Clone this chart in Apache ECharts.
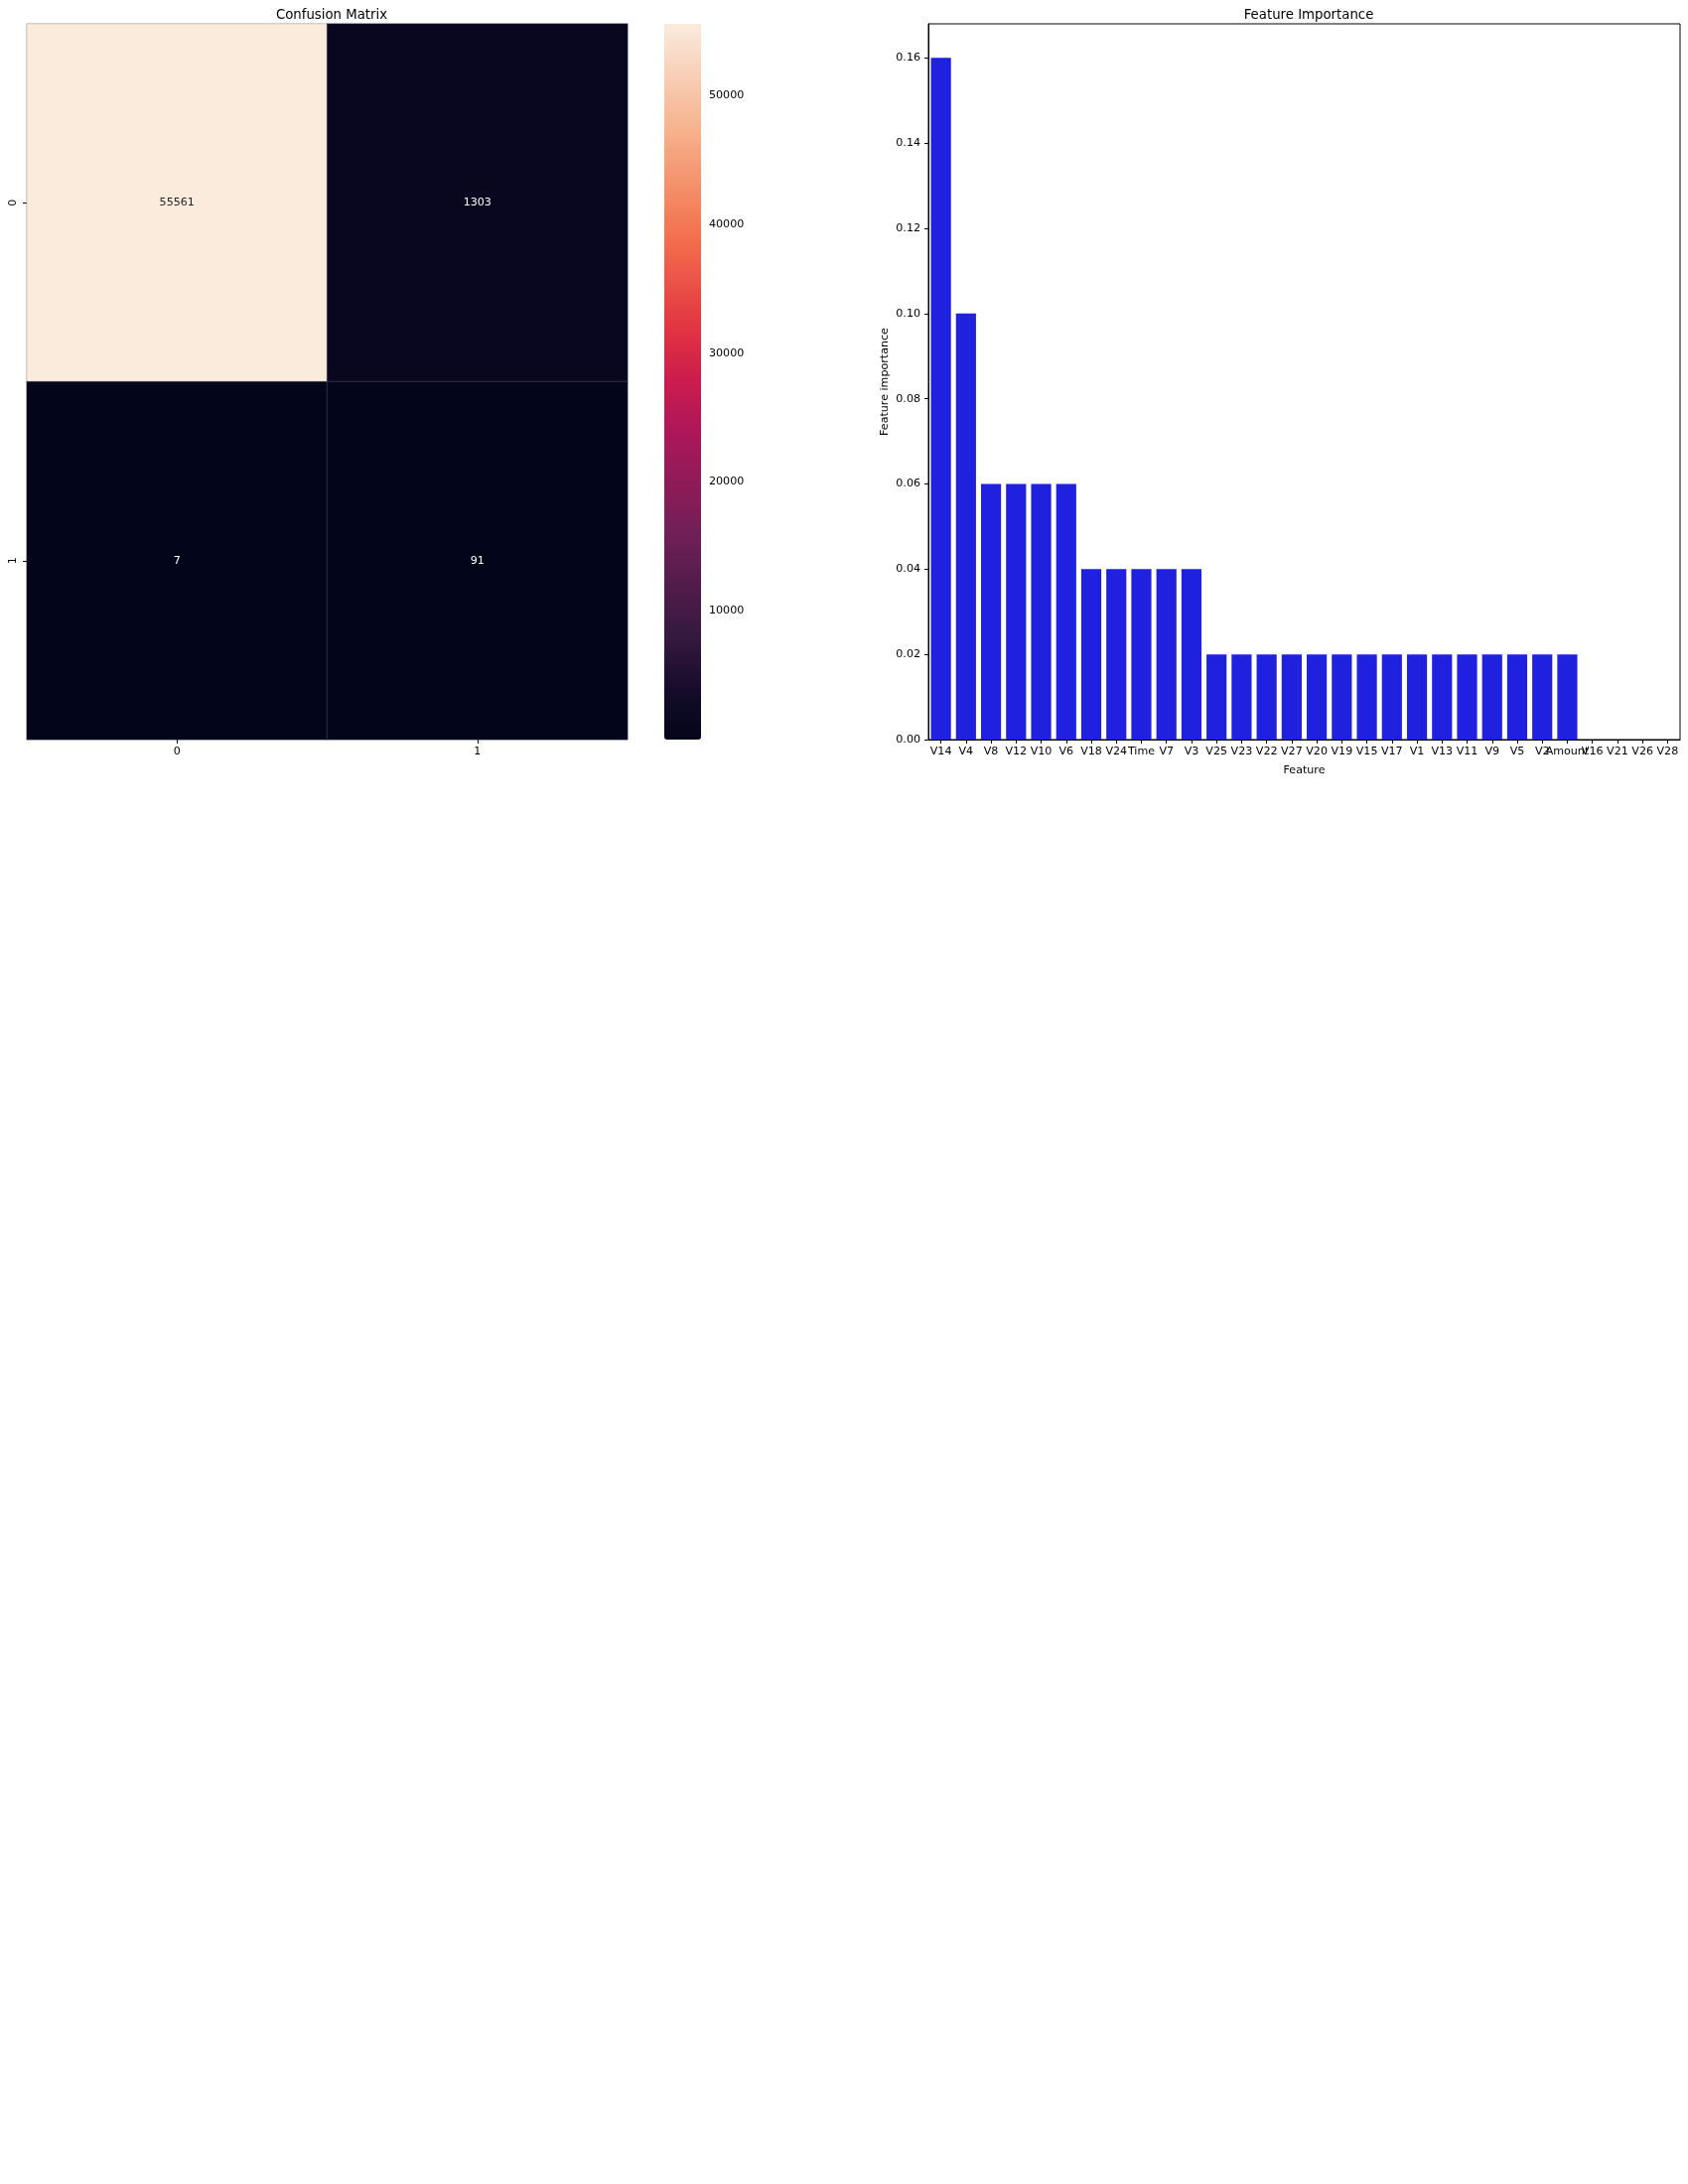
<!DOCTYPE html>
<html>
<head>
<meta charset="utf-8">
<script src="https://cdn.jsdelivr.net/npm/echarts@6/dist/echarts.min.js"></script>
<style>
  html, body { margin: 0; padding: 0; background: #fff; }
  #main { width: 1700px; height: 2200px; }
</style>
</head>
<body>
<div id="main"></div>
<script>
// confusion matrix
var cmRows = ['0', '1'];
var cmCols = ['0', '1'];
var cmValues = [[55561, 1303], [7, 91]];
var cmMin = 7, cmMax = 55561;

// feature importance
var features = ['V14', 'V4', 'V8', 'V12', 'V10', 'V6', 'V18', 'V24', 'Time', 'V7', 'V3',
  'V25', 'V23', 'V22', 'V27', 'V20', 'V19', 'V15', 'V17', 'V1', 'V13', 'V11', 'V9', 'V5',
  'V2', 'Amount', 'V16', 'V21', 'V26', 'V28'];
var importance = [0.16, 0.10, 0.06, 0.06, 0.06, 0.06, 0.04, 0.04, 0.04, 0.04, 0.04,
  0.02, 0.02, 0.02, 0.02, 0.02, 0.02, 0.02, 0.02, 0.02, 0.02, 0.02, 0.02, 0.02,
  0.02, 0.02, 0, 0, 0, 0];

// rocket colormap, evenly spaced stops
var rocket = ['#03051a', '#160c2a', '#35193e', '#521c4a', '#701f57', '#8e1b58', '#ad1759',
  '#cb1b4f', '#e13342', '#ec5447', '#f37651', '#f49570', '#f6b48f', '#f8cfb6', '#faebdd'];

var font = 'DejaVu Sans';
var fs = 11.1;   // 10pt at 80 dpi
var tfs = 13.3;  // 12pt at 80 dpi

var heatData = [];
for (var r = 0; r < cmRows.length; r++) {
  for (var c = 0; c < cmCols.length; c++) {
    var v = cmValues[r][c];
    heatData.push({
      value: [c, r, v],
      label: { color: (v - cmMin) / (cmMax - cmMin) > 0.6 ? '#262626' : '#ffffff' }
    });
  }
}

var dom = document.getElementById('main');
var myChart = echarts.init(dom, null, { renderer: 'canvas' });

var tick = { show: true, inside: false, length: 4, lineStyle: { color: '#000', width: 1 } };
function lbl(m) { return { color: '#000', fontSize: fs, fontFamily: font, margin: m }; }

var option = {
  backgroundColor: '#fff',
  animation: false,
  title: [{
    text: 'Confusion Matrix',
    left: 329, top: 4, textAlign: 'center',
    textStyle: { fontSize: tfs, fontWeight: 'normal', color: '#000', fontFamily: font }
  }, {
    text: 'Feature Importance',
    left: 1313, top: 4, textAlign: 'center',
    textStyle: { fontSize: tfs, fontWeight: 'normal', color: '#000', fontFamily: font }
  }],
  grid: [
    { left: 27, top: 24, width: 605, height: 721, containLabel: false },
    { left: 669, top: 24, width: 37, height: 721, containLabel: false },
    { left: 935, top: 24, width: 757, height: 721, containLabel: false,
      show: true, borderColor: '#000', borderWidth: 1 }
  ],
  visualMap: {
    type: 'continuous',
    seriesIndex: 0,
    min: cmMin, max: cmMax,
    calculable: false,
    orient: 'vertical',
    left: 669, top: 24,
    itemWidth: 37, itemHeight: 721,
    padding: 0,
    text: null,
    showLabel: false,
    inRange: { color: rocket }
  },
  xAxis: [{
    gridIndex: 0, type: 'category', data: cmCols,
    axisLine: { show: false },
    axisTick: Object.assign({ alignWithLabel: true }, tick),
    axisLabel: lbl(7),
    splitLine: { show: false }
  }, {
    gridIndex: 1, type: 'value', show: false
  }, {
    gridIndex: 2, type: 'category', data: features,
    name: 'Feature', nameLocation: 'middle', nameGap: 26,
    nameTextStyle: { color: '#000', fontSize: fs, fontFamily: font },
    axisLine: { show: true, lineStyle: { color: '#000', width: 1 } },
    axisTick: Object.assign({ alignWithLabel: true }, tick),
    axisLabel: Object.assign({ interval: 0 }, lbl(7)),
    splitLine: { show: false }
  }],
  yAxis: [{
    gridIndex: 0, type: 'category', data: cmRows, inverse: true,
    axisLine: { show: false },
    axisTick: Object.assign({ alignWithLabel: true }, tick),
    axisLabel: Object.assign({ rotate: 90 }, lbl(8)),
    splitLine: { show: false }
  }, {
    gridIndex: 1, type: 'value', position: 'right',
    min: 0, max: cmMax, interval: 10000,
    axisLine: { show: false },
    axisTick: tick,
    axisLabel: Object.assign({
      showMinLabel: false, showMaxLabel: false,
      formatter: function (v) { return String(v); }
    }, lbl(8)),
    splitLine: { show: false }
  }, {
    gridIndex: 2, type: 'value',
    min: 0, max: 0.168, interval: 0.02,
    name: 'Feature importance', nameLocation: 'middle', nameGap: 38, nameRotate: 90,
    nameTextStyle: { color: '#000', fontSize: fs, fontFamily: font },
    axisLine: { show: true, lineStyle: { color: '#000', width: 1 } },
    axisTick: tick,
    axisLabel: Object.assign({
      showMaxLabel: false,
      formatter: function (v) { return v.toFixed(2); }
    }, lbl(8)),
    splitLine: { show: false }
  }],
  series: [{
    type: 'heatmap',
    xAxisIndex: 0, yAxisIndex: 0,
    data: heatData,
    label: {
      show: true, fontSize: fs, fontFamily: font,
      formatter: function (p) { return p.value[2]; }
    },
    itemStyle: { borderColor: 'rgba(90,90,110,0.6)', borderWidth: 0.6 },
    emphasis: { disabled: true }
  }, {
    type: 'scatter',
    xAxisIndex: 1, yAxisIndex: 1,
    data: []
  }, {
    type: 'bar',
    xAxisIndex: 2, yAxisIndex: 2,
    data: importance,
    barWidth: '80%',
    itemStyle: { color: '#2020df' }
  }]
};

if (option && typeof option === 'object') {
  myChart.setOption(option, true);
}
</script>
</body>
</html>
